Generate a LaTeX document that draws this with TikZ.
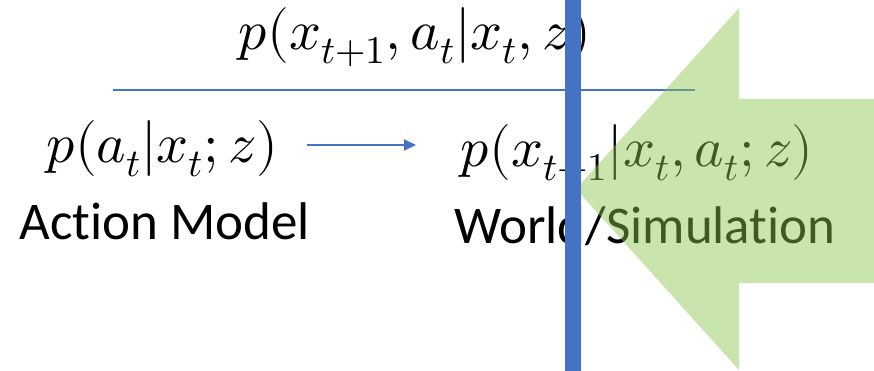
\documentclass[tikz,border=0pt]{standalone}
\usepackage{fontspec}
\usepackage{unicode-math}
\setmainfont{Carlito}[Ligatures=NoCommon]
\setmathfont{Latin Modern Math}
\usetikzlibrary{arrows.meta}
\definecolor{barblue}{HTML}{4472C4}
\definecolor{arrgreen}{RGB}{139,196,78}
\tikzset{
  mathlbl/.style={inner sep=0pt, anchor=base, font=\fontsize{56}{60}\selectfont},
  namelbl/.style={inner sep=0pt, anchor=base, font=\fontsize{53}{56}\selectfont},
}
\begin{document}
\begin{tikzpicture}[x=1pt,y=-1pt]
\useasboundingbox (0,0) rectangle (874,371);
\node[mathlbl] (joint) at (415,50) {$p(x_{t+1},a_t|x_t,z)$};
\node[mathlbl] (act) at (162,163) {$p(a_t|x_t;z)$};
\node[mathlbl] (world) at (637,167) {$p(x_{t+1}|x_t,a_t;z)$};
\node[namelbl] (actname) at (165,240) {Action Model};
\node[namelbl] (worldname) at (645,243) {World/Simulation};
\coordinate (hl) at (113,90);
\coordinate (hr) at (695,90);
\draw[barblue, line width=1.5pt] (hl) -- (hr);
\coordinate (as) at (307,145);
\coordinate (ae) at (416,145);
\draw[barblue, line width=2pt, -{Triangle[length=12pt,width=11pt]}] (as) -- (ae);
\fill[arrgreen, opacity=0.46] (576,189) -- (739,8) -- (739,99) -- (874,99) -- (874,283) -- (739,283) -- (739,370) -- cycle;
\fill[barblue] (565,0) rectangle (581,371);
\end{tikzpicture}
\end{document}
